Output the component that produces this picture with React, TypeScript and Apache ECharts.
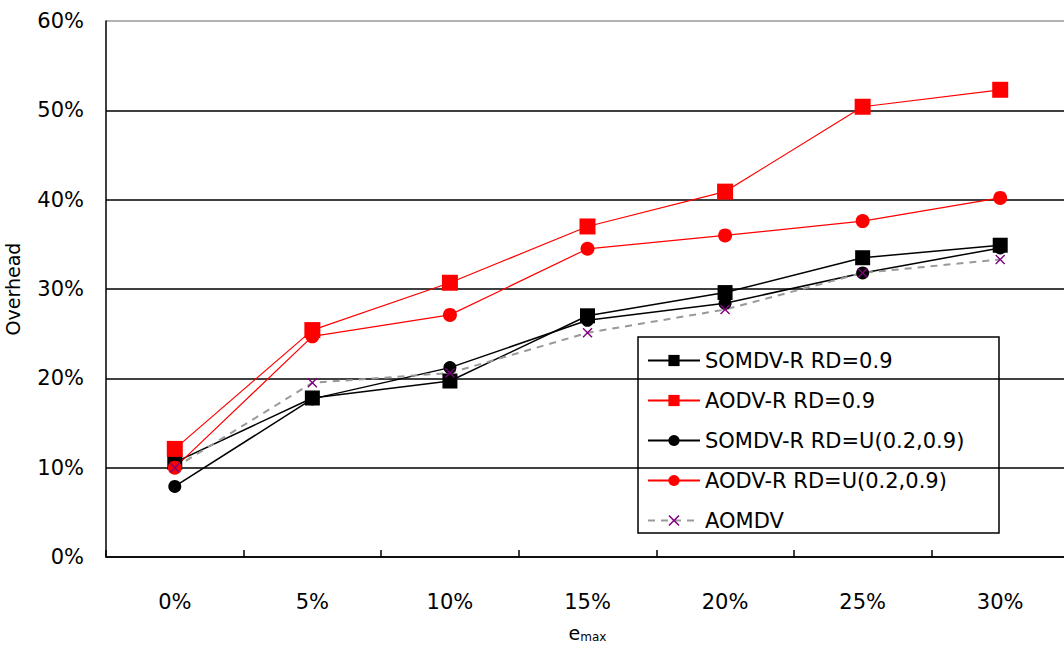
import React, { useEffect, useRef } from "react";
import * as echarts from "echarts";

const categories = ["0%", "5%", "10%", "15%", "20%", "25%", "30%"];
const yTicks = [0, 10, 20, 30, 40, 50, 60];
const seriesNames = [
  "SOMDV-R RD=0.9",
  "AODV-R RD=0.9",
  "SOMDV-R RD=U(0.2,0.9)",
  "AODV-R RD=U(0.2,0.9)",
  "AOMDV",
];
const somdvR09 = [10.6, 17.8, 19.7, 27.0, 29.6, 33.5, 34.9];
const aodvR09 = [12.1, 25.4, 30.7, 37.0, 40.9, 50.4, 52.3];
const somdvRU = [7.9, 17.7, 21.2, 26.5, 28.4, 31.8, 34.6];
const aodvRU = [10.0, 24.7, 27.1, 34.5, 36.0, 37.6, 40.2];
const aomdv = [10.0, 19.5, 20.6, 25.1, 27.7, 31.8, 33.3];

const FONT = "DejaVu Sans";
const CROSS =
  "path://M0,1 L1,0 L5,4 L9,0 L10,1 L6,5 L10,9 L9,10 L5,6 L1,10 L0,9 L4,5 Z";

export default function App() {
  const ref = useRef<HTMLDivElement>(null);
  useEffect(() => {
    if (!ref.current) return;
    const chart = echarts.init(ref.current, undefined, { renderer: "svg" });
    const option = {
      animation: false,
      backgroundColor: "#fff",
      textStyle: { fontFamily: FONT },
      grid: { left: 106, top: 21, height: 536, width: 963, containLabel: false, outerBoundsMode: "none" },
      xAxis: {
        type: "category",
        data: categories,
        boundaryGap: true,
        name: "{e|e}{s|max}",
        nameLocation: "middle",
        nameGap: 66,
        nameTextStyle: {
          rich: {
            e: { fontSize: 19, color: "#000", fontFamily: FONT, lineHeight: 20 },
            s: { fontSize: 12, color: "#000", fontFamily: FONT, lineHeight: 20, padding: [7, 0, 0, 0] },
          },
        },
        axisLine: { show: true, lineStyle: { color: "#000", width: 1.5 } },
        axisTick: { show: true, inside: true, length: 7, interval: 0, lineStyle: { color: "#000", width: 1.5 } },
        axisLabel: { fontSize: 21, color: "#000", margin: 34, fontFamily: FONT, interval: 0 },
        splitLine: { show: false },
      },
      yAxis: {
        type: "value",
        min: 0,
        max: 60,
        interval: 10,
        name: "Overhead",
        nameLocation: "middle",
        nameRotate: 90,
        nameGap: 84,
        nameTextStyle: { fontSize: 19, color: "#000", fontFamily: FONT },
        axisLine: { show: true, lineStyle: { color: "#000", width: 1.5 } },
        axisTick: { show: false },
        axisLabel: {
          fontSize: 21,
          color: "#000",
          margin: 22,
          fontFamily: FONT,
          formatter: (v: number) => (yTicks.includes(v) ? v + "%" : ""),
        },
        splitLine: {
          show: true,
          lineStyle: { color: ["#000", "#000", "#000", "#000", "#000", "#000", "#999"], width: 1.5 },
        },
      },
      legend: {
        orient: "vertical",
        left: 647,
        top: 350,
        itemWidth: 52,
        itemHeight: 14,
        itemGap: 19,
        padding: 0,
        textStyle: { fontSize: 21, color: "#000", fontFamily: FONT, lineHeight: 20 },
        data: seriesNames,
      },
      graphic: [
        {
          type: "rect",
          z: -1,
          zlevel: 0,
          shape: { x: 638, y: 337, width: 361, height: 196 },
          style: { fill: "#fff", stroke: "#000", lineWidth: 1.5 },
        },
      ],
      series: [
        {
          name: seriesNames[0],
          type: "line",
          data: somdvR09,
          symbol: "rect",
          symbolSize: 15,
          lineStyle: { color: "#000", width: 1.5 },
          itemStyle: { color: "#000" },
        },
        {
          name: seriesNames[1],
          type: "line",
          data: aodvR09,
          symbol: "rect",
          symbolSize: 16,
          lineStyle: { color: "#f00", width: 1.2 },
          itemStyle: { color: "#f00" },
        },
        {
          name: seriesNames[2],
          type: "line",
          data: somdvRU,
          symbol: "circle",
          symbolSize: 13,
          lineStyle: { color: "#000", width: 1.5 },
          itemStyle: { color: "#000" },
        },
        {
          name: seriesNames[3],
          type: "line",
          data: aodvRU,
          symbol: "circle",
          symbolSize: 14,
          lineStyle: { color: "#f00", width: 1.2 },
          itemStyle: { color: "#f00" },
        },
        {
          name: seriesNames[4],
          type: "line",
          data: aomdv,
          symbol: CROSS,
          symbolSize: 10,
          lineStyle: { color: "#999", width: 2, type: [7, 6] },
          itemStyle: { color: "#800080" },
        },
      ],
    };
    chart.setOption(option as any);
    return () => chart.dispose();
  }, []);
  return (
    <div
      ref={ref}
      style={{ position: "fixed", left: 0, top: 0, width: 1064, height: 650, background: "#fff" }}
    />
  );
}
